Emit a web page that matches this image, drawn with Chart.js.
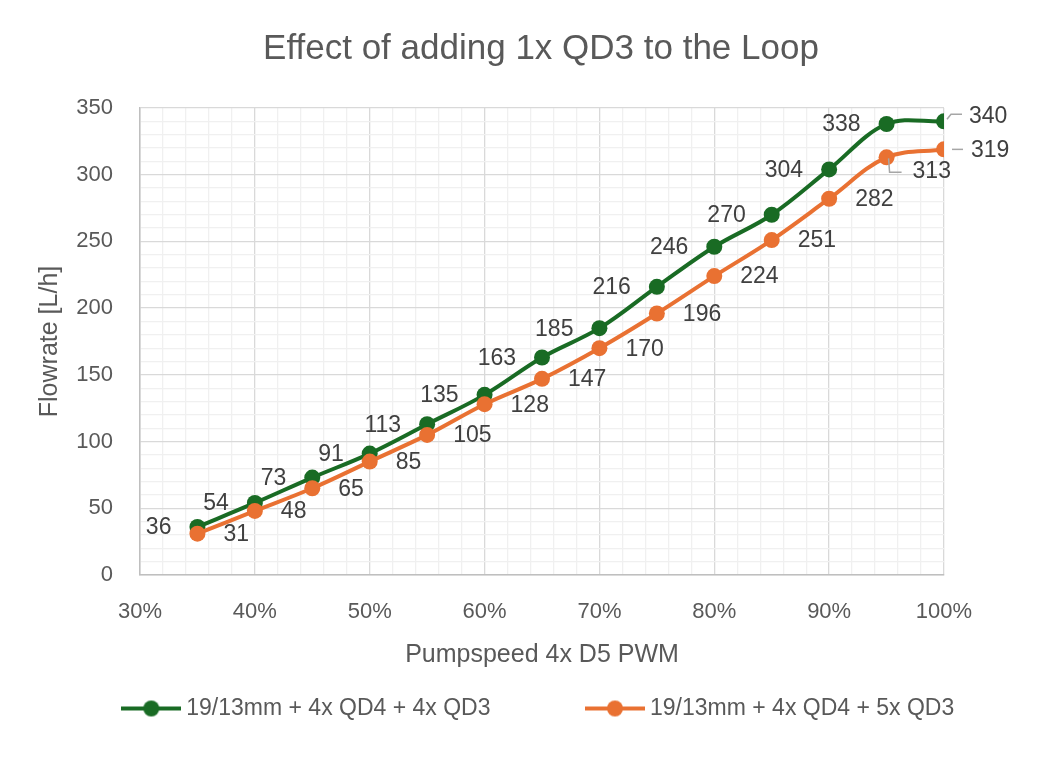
<!DOCTYPE html>
<html>
<head>
<meta charset="utf-8">
<script src="https://cdn.jsdelivr.net/npm/chart.js@4.4.1/dist/chart.umd.min.js"></script>
<style>
  html, body { margin: 0; padding: 0; background: #fff; }
  #wrap { width: 1062px; height: 767px; }
</style>
</head>
<body>
<div id="wrap"><canvas id="MyChart"></canvas></div>
<script>
const pumpspeed = [35, 40, 45, 50, 55, 60, 65, 70, 75, 80, 85, 90, 95, 100];
const flow4xQD3 = [36, 54, 73, 91, 113, 135, 163, 185, 216, 246, 270, 304, 338, 340];
const flow5xQD3 = [31, 48, 65, 85, 105, 128, 147, 170, 196, 224, 251, 282, 313, 319];
const seriesNames = ['19/13mm + 4x QD4 + 4x QD3', '19/13mm + 4x QD4 + 5x QD3'];
const xTicks = [30, 40, 50, 60, 70, 80, 90, 100];
const yTicks = [0, 50, 100, 150, 200, 250, 300, 350];

const FONT = "'Liberation Sans', Arial, sans-serif";
const GREEN = '#196B24';
const ORANGE = '#E97132';

function legendIcon(color) {
    const c = document.createElement('canvas');
    c.width = 60; c.height = 20;
    const g = c.getContext('2d');
    g.strokeStyle = color;
    g.lineWidth = 4;
    g.beginPath(); g.moveTo(0, 10); g.lineTo(60, 10); g.stroke();
    g.fillStyle = color;
    g.beginPath(); g.arc(30, 10, 8, 0, Math.PI * 2); g.fill();
    return c;
}

// labels moved by hand in the original (dx, dy relative to the point, plus leader line)
const labelTweaks = {
    '0-13': { dx: 25, dy: -5, align: 'left', leader: [[3, -2], [7, -7], [18, -7]] },
    '1-13': { dx: 27, dy: 1, align: 'left', leader: [[8, 0], [19, 0]] },
    '1-12': { dx: 26, dy: 14, align: 'left', leader: [[2, 1], [3, 15], [15, 15]] }
};

const pointLabels = {
    id: 'pointLabels',
    afterDatasetsDraw(chart) {
        const ctx = chart.ctx;
        ctx.save();
        ctx.font = '23px ' + FONT;
        ctx.fillStyle = '#404040';
        ctx.textBaseline = 'middle';
        chart.data.datasets.forEach((ds, di) => {
            const meta = chart.getDatasetMeta(di);
            meta.data.forEach((pt, i) => {
                const t = labelTweaks[di + '-' + i];
                let x, y;
                if (t) {
                    ctx.strokeStyle = '#a6a6a6';
                    ctx.lineWidth = 1.5;
                    ctx.beginPath();
                    t.leader.forEach((p, k) => {
                        if (k === 0) ctx.moveTo(pt.x + p[0], pt.y + p[1]);
                        else ctx.lineTo(pt.x + p[0], pt.y + p[1]);
                    });
                    ctx.stroke();
                    ctx.textAlign = t.align;
                    x = pt.x + t.dx; y = pt.y + t.dy;
                } else if (di === 0) {
                    ctx.textAlign = 'right';
                    x = pt.x - 26; y = pt.y + 1;
                } else {
                    ctx.textAlign = 'left';
                    x = pt.x + 26; y = pt.y + 1;
                }
                ctx.fillText(String(ds.data[i].y), x, y);
            });
        });
        ctx.restore();
    }
};

// the big item padding pushes the legend row down; pull its box top up
const legendShift = {
    id: 'legendShift',
    afterLayout(chart) {
        const lg = chart.legend;
        lg.top -= lg.options.labels.padding + 10;
    }
};

function toPoints(arr) {
    return arr.map((v, i) => ({ x: pumpspeed[i], y: v }));
}

const ctx = document.getElementById('MyChart').getContext('2d');
const myChart = new Chart(ctx, {
    type: 'line',
    data: {
        datasets: [
            {
                label: seriesNames[0],
                data: toPoints(flow4xQD3),
                borderColor: GREEN,
                backgroundColor: GREEN,
                borderWidth: 4,
                pointRadius: 8,
                pointBorderWidth: 0,
                tension: 0.35,
                fill: false,
                order: 1
            },
            {
                label: seriesNames[1],
                data: toPoints(flow5xQD3),
                borderColor: ORANGE,
                backgroundColor: ORANGE,
                borderWidth: 4,
                pointRadius: 8,
                pointBorderWidth: 0,
                tension: 0.35,
                fill: false,
                order: 0
            }
        ]
    },
    options: {
        responsive: true,
        maintainAspectRatio: false,
        animation: false,
        layout: { padding: { left: 20, right: 0, top: 0, bottom: 0 } },
        scales: {
            x: {
                type: 'linear',
                min: 30,
                max: 100,
                grid: {
                    drawTicks: false,
                    lineWidth: 1.3,
                    color: c => (xTicks.includes(c.tick.value) ? '#d9d9d9' : '#f0f0f0')
                },
                border: { color: '#bfbfbf', width: 1.5 },
                ticks: {
                    stepSize: 2,
                    autoSkip: false,
                    maxRotation: 0,
                    padding: 24,
                    color: '#595959',
                    font: { family: FONT, size: 22 },
                    callback: v => (xTicks.includes(v) ? v + '%' : '')
                },
                title: {
                    display: true,
                    text: 'Pumpspeed 4x D5 PWM',
                    color: '#595959',
                    font: { family: FONT, size: 25 },
                    padding: { top: 0, bottom: 37 }
                },
                afterFit: s => { s.height = 132; }
            },
            y: {
                min: 0,
                max: 350,
                grid: {
                    drawTicks: false,
                    lineWidth: 1.3,
                    color: c => (yTicks.includes(c.tick.value) ? '#d9d9d9' : '#f0f0f0')
                },
                border: { color: '#bfbfbf', width: 1.5 },
                ticks: {
                    stepSize: 10,
                    autoSkip: false,
                    padding: 27,
                    color: '#595959',
                    font: { family: FONT, size: 22 },
                    callback: v => (yTicks.includes(v) ? String(v) : '')
                },
                title: {
                    display: true,
                    text: 'Flowrate [L/h]',
                    color: '#595959',
                    font: { family: FONT, size: 25 },
                    padding: { top: 15, bottom: 0 }
                },
                afterFit: s => { s.width = 120; }
            },
            spacer: {
                position: 'right',
                display: true,
                grid: { display: false },
                border: { display: false },
                ticks: { display: false },
                afterFit: s => { s.width = 118; }
            }
        },
        plugins: {
            title: {
                display: true,
                text: 'Effect of adding 1x QD3 to the Loop',
                color: '#595959',
                font: { family: FONT, size: 35, weight: 'normal' },
                padding: { top: 28, bottom: 38 }
            },
            legend: {
                position: 'bottom',
                maxHeight: 60,
                labels: {
                    usePointStyle: true,
                    pointStyleWidth: 47,
                    padding: 101,
                    color: '#595959',
                    font: { family: FONT, size: 23 },
                    generateLabels: chart => chart.data.datasets.map((ds, i) => ({
                        text: ds.label,
                        pointStyle: legendIcon(ds.borderColor),
                        fillStyle: ds.borderColor,
                        strokeStyle: ds.borderColor,
                        lineWidth: 0,
                        fontColor: '#595959',
                        hidden: false,
                        datasetIndex: i
                    }))
                }
            },
            tooltip: { enabled: false }
        }
    },
    plugins: [pointLabels, legendShift]
});
</script>
</body>
</html>
